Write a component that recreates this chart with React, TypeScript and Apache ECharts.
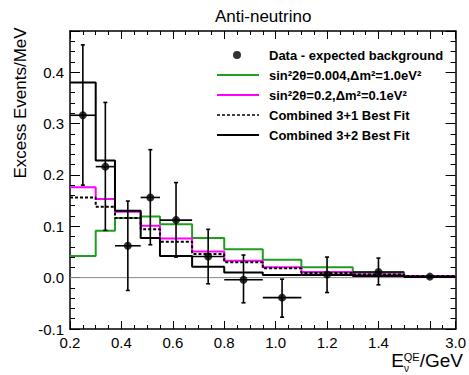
import React, { useEffect, useRef } from "react";
import * as echarts from "echarts";

// Bin edges (GeV)
const binEdges = [0.2, 0.3, 0.375, 0.475, 0.55, 0.675, 0.8, 0.95, 1.1, 1.3, 1.5, 3.0];

// Model histograms (events/MeV per bin)
const greenModel = [0.042, 0.091, 0.116, 0.119, 0.104, 0.077, 0.055, 0.035, 0.020, 0.010, 0.003];
const magentaModel = [0.176, 0.153, 0.128, 0.101, 0.076, 0.051, 0.033, 0.020, 0.011, 0.006, 0.003];
const fit31 = [0.156, 0.138, 0.116, 0.094, 0.070, 0.046, 0.030, 0.018, 0.009, 0.006, 0.003];
const fit32 = [0.380, 0.228, 0.130, 0.077, 0.042, 0.021, 0.010, 0.005, 0.005, 0.003, 0.001];

// Data points
const dataX = [0.25, 0.3375, 0.425, 0.5125, 0.6125, 0.7375, 0.875, 1.025, 1.2, 1.4, 2.25];
const dataY = [0.316, 0.216, 0.062, 0.156, 0.112, 0.041, -0.004, -0.039, 0.006, 0.011, 0.002];
const dataHi = [0.453, 0.341, 0.149, 0.249, 0.185, 0.094, 0.044, -0.003, 0.040, 0.038, 0.004];
const dataLo = [0.180, 0.092, -0.025, 0.064, 0.040, -0.012, -0.049, -0.077, -0.029, -0.014, 0.000];

const xTickLabels = ["0.2", "0.4", "0.6", "0.8", "1.0", "1.2", "1.4", "3.0"];

const names = {
  data: "Data - expected background",
  green: "sin\u00b22\u03b8=0.004,\u0394m\u00b2=1.0eV\u00b2",
  magenta: "sin\u00b22\u03b8=0.2,\u0394m\u00b2=0.1eV\u00b2",
  f31: "Combined 3+1 Best Fit",
  f32: "Combined 3+2 Best Fit",
};

// The axis is linear up to 1.5 GeV, the last bin (1.5-3.0) is compressed.
const U_MAX = 1.7;
const toU = (e: number) => (e <= 1.5 ? e : 1.5 + ((e - 1.5) * (U_MAX - 1.5)) / 1.5);

const histData = (vals: number[]) => {
  const pts: number[][] = vals.map((v, i) => [toU(binEdges[i]), v]);
  pts.push([toU(binEdges[vals.length]), vals[vals.length - 1]]);
  return pts;
};

const FONT = "Liberation Sans, Arial, Helvetica, sans-serif";

// legend icons (42 x 14 box)
const BOX = "M0 0M42 14";
const solidIcon = `path://${BOX}M0 6H42V8H0Z`;
const dashedIcon = (() => {
  let d = `path://${BOX}`;
  for (let x = 0; x < 42; x += 5) d += `M${x} 6.2H${Math.min(x + 3, 42)}V7.8H${x}Z`;
  return d;
})();
const dotIcon = `path://${BOX}M24 7A4 4 0 1 1 16 7A4 4 0 1 1 24 7Z`;

export default function App() {
  const ref = useRef<HTMLDivElement>(null);
  useEffect(() => {
    if (!ref.current) return;
    const chart = echarts.init(ref.current, undefined, { renderer: "svg" });

    const xLabel = (v: number) => {
      if (v > U_MAX - 0.01) return xTickLabels[xTickLabels.length - 1];
      if (v > 1.45) return "";
      const s = v.toFixed(1);
      return xTickLabels.includes(s) ? s : "";
    };
    const yLabel = (v: number) => (v > 0.45 ? "" : v.toFixed(1));

    const baseX = {
      type: "value",
      min: 0.2,
      max: U_MAX,
      interval: 0.2,
      splitLine: { show: false },
      axisLine: { onZero: false, lineStyle: { color: "#000", width: 1.5 } },
      axisTick: { inside: true, length: 8, lineStyle: { color: "#000", width: 1 } },
      minorTick: { show: true, splitNumber: 4, length: 4, lineStyle: { color: "#000", width: 1 } },
    };
    const baseY = {
      type: "value",
      min: -0.1,
      max: 0.48,
      interval: 0.1,
      splitLine: { show: false },
      axisLine: { onZero: false, lineStyle: { color: "#000", width: 1.5 } },
      axisTick: { inside: true, length: 10, lineStyle: { color: "#000", width: 1 } },
      minorTick: { show: true, splitNumber: 5, length: 5, lineStyle: { color: "#000", width: 1 } },
    };

    const errData = dataX.map((x, i) => {
      const k = binEdges.findIndex((e, j) => x >= e && x < binEdges[j + 1]);
      return [toU(x), dataY[i], dataLo[i], dataHi[i], toU(binEdges[k]), toU(binEdges[k + 1])];
    });

    const lineSeries = (name: string, vals: number[], color: string, type: any, z: number) => ({
      name,
      type: "line",
      step: "end",
      data: histData(vals),
      symbol: "none",
      lineStyle: { color, width: 2, type },
      itemStyle: { color },
      z,
    });

    chart.setOption({
      animation: false,
      backgroundColor: "#fff",
      textStyle: { fontFamily: FONT },
      title: {
        text: "Anti-neutrino",
        left: 210,
        top: 3,
        textStyle: { fontFamily: FONT, fontWeight: "normal", fontSize: 17, color: "#000" },
      },
      grid: { left: 70, top: 31, right: 10, bottom: 46 },
      xAxis: [
        {
          ...baseX,
          position: "bottom",
          axisLabel: { formatter: xLabel, color: "#000", fontSize: 15, lineHeight: 15, fontFamily: FONT, margin: 6 },
        },
        { ...baseX, position: "top", axisLabel: { show: false } },
      ],
      yAxis: [
        {
          ...baseY,
          position: "left",
          axisLabel: { formatter: yLabel, color: "#000", fontSize: 15, fontFamily: FONT, margin: 6 },
        },
        { ...baseY, position: "right", axisLabel: { show: false } },
      ],
      legend: {
        orient: "vertical",
        left: 212,
        top: 43,
        itemWidth: 42,
        itemHeight: 14,
        itemGap: 6,
        selectedMode: false,
        textStyle: { fontFamily: FONT, fontWeight: "bold", fontSize: 13, color: "#000", padding: [0, 0, 0, 5] },
        data: [
          { name: names.data, icon: dotIcon },
          { name: names.green, icon: solidIcon },
          { name: names.magenta, icon: solidIcon },
          { name: names.f31, icon: dashedIcon },
          { name: names.f32, icon: solidIcon },
        ],
      },
      graphic: [
        {
          type: "text",
          x: 20,
          y: 103,
          rotation: Math.PI / 2,
          style: {
            text: "Excess Events/MeV",
            fontFamily: FONT,
            fontSize: 17,
            fill: "#000",
            align: "center",
            verticalAlign: "middle",
          },
        },
        {
          type: "text",
          x: 463,
          y: 370,
          style: {
            text: "{e|E}{s|QE}{g|/GeV}",
            align: "right",
            verticalAlign: "bottom",
            fill: "#000",
            rich: {
              e: { fontFamily: FONT, fontSize: 19, lineHeight: 19, fill: "#000" },
              s: { fontFamily: FONT, fontSize: 11, lineHeight: 11, fill: "#000", verticalAlign: "top" },
              g: { fontFamily: FONT, fontSize: 19, lineHeight: 19, fill: "#000" },
            },
          },
        },
        {
          type: "text",
          x: 404,
          y: 373,
          style: {
            text: "\u03bd",
            fontFamily: FONT,
            fontSize: 10,
            fill: "#000",
            align: "left",
            verticalAlign: "bottom",
          },
        },
      ],
      series: [
        {
          name: "zero",
          type: "line",
          data: [
            [0.2, 0],
            [U_MAX, 0],
          ],
          symbol: "none",
          lineStyle: { color: "#8a8a8a", width: 1 },
          silent: true,
          z: 1,
        },
        lineSeries(names.green, greenModel, "#1f9e1f", "solid", 2),
        lineSeries(names.magenta, magentaModel, "#ff00ff", "solid", 3),
        lineSeries(names.f31, fit31, "#000", [3, 2], 4),
        lineSeries(names.f32, fit32, "#000", "solid", 5),
        {
          name: "errors",
          type: "custom",
          data: errData,
          z: 6,
          silent: true,
          renderItem: (params: any, api: any) => {
            const x = api.value(0);
            const y = api.value(1);
            const lo = api.value(2);
            const hi = api.value(3);
            const xl = api.value(4);
            const xr = api.value(5);
            const pTop = api.coord([x, hi]);
            const pBot = api.coord([x, lo]);
            const pL = api.coord([xl, y]);
            const pR = api.coord([xr, y]);
            const st = { stroke: "#000", lineWidth: 1.6 };
            const cap = 2;
            return {
              type: "group",
              children: [
                { type: "line", shape: { x1: pTop[0], y1: pTop[1], x2: pBot[0], y2: pBot[1] }, style: st },
                { type: "line", shape: { x1: pL[0], y1: pL[1], x2: pR[0], y2: pR[1] }, style: st },
                { type: "line", shape: { x1: pTop[0] - cap, y1: pTop[1], x2: pTop[0] + cap, y2: pTop[1] }, style: st },
                { type: "line", shape: { x1: pBot[0] - cap, y1: pBot[1], x2: pBot[0] + cap, y2: pBot[1] }, style: st },
              ],
            };
          },
        },
        {
          name: names.data,
          type: "scatter",
          data: dataX.map((x, i) => [toU(x), dataY[i]]),
          symbol: "circle",
          symbolSize: 8,
          itemStyle: { color: "#000" },
          z: 7,
        },
      ],
    });
    return () => chart.dispose();
  }, []);
  return <div ref={ref} style={{ position: "absolute", left: 0, top: 0, width: 469, height: 375 }} />;
}
